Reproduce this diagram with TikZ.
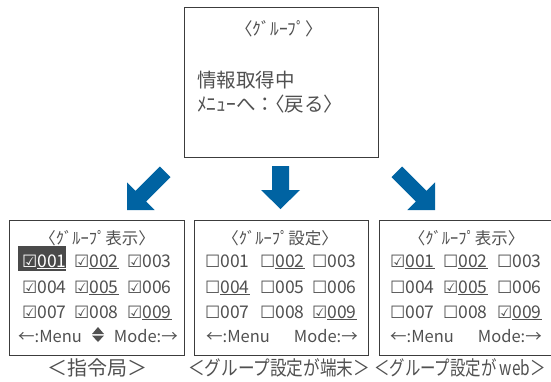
\documentclass[tikz,border=0pt]{standalone}
\usepackage{fontspec}
\usepackage{graphicx}
\setmainfont{Noto Sans CJK JP}
\newfontfamily\symf{DejaVu Sans}
\definecolor{txtcol}{HTML}{505050}
\definecolor{linecol}{HTML}{3C3C3C}
\definecolor{hlcol}{HTML}{4A4A4A}
\definecolor{arrowcol}{HTML}{0063A2}
\newcommand\cbon{{\symf\fontsize{17}{17}\selectfont ☑}}
\newcommand\cboff{{\symf\fontsize{17}{17}\selectfont ☐}}
\newcommand\uln[1]{\underline{#1}}
\newcommand\lb{\makebox[0.5em][r]{〈}}
\newcommand\rb{\makebox[0.5em][l]{〉}}
\tikzset{
  panel/.style={draw=linecol, line width=1.2pt, inner sep=0pt, anchor=north west},
  cell/.style={anchor=base west, inner sep=0pt, text=txtcol, font=\fontsize{17.5}{17.5}\selectfont},
  celle/.style={cell, anchor=base east},
  head/.style={anchor=base, inner sep=0pt, text=txtcol, font=\fontsize{16.5}{16.5}\selectfont},
  captext/.style={anchor=base, inner sep=0pt, text=txtcol, font=\fontsize{20}{20}\selectfont},
  toptext/.style={anchor=base west, inner sep=0pt, text=txtcol, font=\fontsize{19.5}{19.5}\selectfont},
  blockarrow/.style={fill=arrowcol},
  updown/.style={fill=txtcol}
}
\begin{document}
\begin{tikzpicture}[x=1pt,y=-1pt]
\useasboundingbox (0,0) rectangle (551,381);
\clip (0,0) rectangle (551,381);
% top panel
\node[panel, minimum width=194pt, minimum height=150pt] (top) at (184,7) {};
\node[head, font=\fontsize{17.5}{17.5}\selectfont] (toph) at (279,35) {\lb ｸﾞﾙｰﾌﾟ\rb};
\node[toptext] (info) at (197,87) {情報取得中};
\node[toptext] (menu) at (197,111) {ﾒﾆｭｰへ：\lb 戻る\rb};
% arrows
\path[blockarrow] (159.9,166.5) -- (135.5,190.9) -- (127,182.4) -- (127,210) -- (154.6,210) -- (146.1,201.5) -- (170.5,177.1) -- cycle;
\path[blockarrow] (272,166) -- (289,166) -- (289,190) -- (300,190) -- (280.5,209) -- (261,190) -- (272,190) -- cycle;
\path[blockarrow] (402.1,166.5) -- (426.5,190.9) -- (435,182.4) -- (435,210) -- (407.4,210) -- (415.9,201.5) -- (391.5,177.1) -- cycle;
% panels
\node[panel, minimum width=175pt, minimum height=135pt] (p1) at (9,220) {};
\node[panel, minimum width=174pt, minimum height=135pt] (p2) at (194,220) {};
\node[panel, minimum width=175pt, minimum height=135pt] (p3) at (379,220) {};
% panel 1
\node[head] (h1) at (97,244) {\lb ｸﾞﾙｰﾌﾟ表示\rb};
\node[fill=hlcol, minimum width=48pt, minimum height=25pt, inner sep=0pt, anchor=north west] (hl) at (18,246) {};
\node[cell, text=white] (a1) at (22,267) {\cbon\uln{001}};
\node[cell] (a2) at (74,267) {\cbon\uln{002}};
\node[cell] (a3) at (127,267) {\cbon 003};
\node[cell] (a4) at (22,293) {\cbon 004};
\node[cell] (a5) at (74,293) {\cbon\uln{005}};
\node[cell] (a6) at (127,293) {\cbon 006};
\node[cell] (a7) at (22,318) {\cbon 007};
\node[cell] (a8) at (74,318) {\cbon 008};
\node[cell] (a9) at (127,318) {\cbon\uln{009}};
\node[cell, font=\fontsize{16.5}{16.5}\selectfont] (am) at (18,342) {←:Menu};
\path[updown] (92,334) -- (104,334) -- (98,327) -- cycle;
\path[updown] (92,335.5) -- (104,335.5) -- (98,342) -- cycle;
\node[celle, font=\fontsize{16.5}{16.5}\selectfont] (ao) at (178,342) {Mode:→};
\node[captext] (c1) at (97.5,375) {＜指令局＞};
% panel 2
\node[head] (h2) at (280,244) {\lb ｸﾞﾙｰﾌﾟ設定\rb};
\node[cell] (b1) at (205,267) {\cboff 001};
\node[cell] (b2) at (260,267) {\cboff\uln{002}};
\node[cell] (b3) at (312,267) {\cboff 003};
\node[cell] (b4) at (205,293) {\cboff\uln{004}};
\node[cell] (b5) at (260,293) {\cboff 005};
\node[cell] (b6) at (312,293) {\cboff 006};
\node[cell] (b7) at (205,318) {\cboff 007};
\node[cell] (b8) at (260,318) {\cboff 008};
\node[cell] (b9) at (312,318) {\cbon\uln{009}};
\node[cell, font=\fontsize{16.5}{16.5}\selectfont] (bm) at (206,342) {←:Menu};
\node[celle, font=\fontsize{16.5}{16.5}\selectfont] (bo) at (358,342) {Mode:→};
\node[captext] (c2) at (279,375) {\scalebox{0.83}[1]{＜グループ設定が端末＞}};
% panel 3
\node[head] (h3) at (466.5,244) {\lb ｸﾞﾙｰﾌﾟ表示\rb};
\node[cell] (d1) at (390,267) {\cbon\uln{001}};
\node[cell] (d2) at (443,267) {\cboff\uln{002}};
\node[cell] (d3) at (497,267) {\cboff 003};
\node[cell] (d4) at (390,293) {\cboff 004};
\node[cell] (d5) at (443,293) {\cbon\uln{005}};
\node[cell] (d6) at (497,293) {\cboff 006};
\node[cell] (d7) at (390,318) {\cboff 007};
\node[cell] (d8) at (443,318) {\cboff 008};
\node[cell] (d9) at (497,318) {\cbon\uln{009}};
\node[cell, font=\fontsize{16.5}{16.5}\selectfont] (dm) at (390,342) {←:Menu};
\node[celle, font=\fontsize{16.5}{16.5}\selectfont] (do) at (542,342) {Mode:→};
\node[captext, anchor=base west] (c3) at (374,375) {\scalebox{0.77}[1]{＜グループ設定が web＞}};
\end{tikzpicture}
\end{document}
